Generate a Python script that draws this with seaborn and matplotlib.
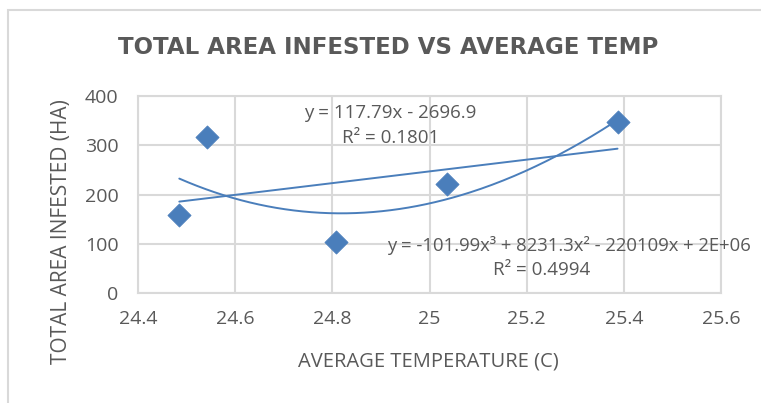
import numpy as np
import pandas as pd
import matplotlib
matplotlib.use("Agg")
import matplotlib.pyplot as plt
import seaborn as sns
from matplotlib.patches import Rectangle

# ---- data ----
avg_temp = [24.485, 24.541, 24.808, 25.035, 25.387]
area_infested = [158, 317, 103, 221, 347]
x_ticks = [24.4, 24.6, 24.8, 25.0, 25.2, 25.4, 25.6]
x_tick_labels = ["24.4", "24.6", "24.8", "25", "25.2", "25.4", "25.6"]
y_ticks = [0, 100, 200, 300, 400]
lin_eq = "y = 117.79x - 2696.9"
lin_r2 = "R² = 0.1801"
cub_eq = "y = -101.99x³ + 8231.3x² - 220109x + 2E+06"
cub_r2 = "R² = 0.4994"

sns.set_theme(style="white")
plt.rcParams['font.family'] = ['Open Sans', 'DejaVu Sans']

TXT = "#595959"
GRID = "#d9d9d9"
BLUE = "#4a7ebb"

W, H = 761, 403
fig = plt.figure(figsize=(W / 100, H / 100), dpi=100)
fig.patch.set_facecolor("white")
# chart outer border
fig.patches.append(Rectangle((8 / W, -0.1), 2, 1.1 - 10 / H, transform=fig.transFigure,
                             fill=False, edgecolor=GRID, linewidth=1.5))

ax = fig.add_axes([138 / W, (H - 293) / H, 583 / W, 197 / H])

df = pd.DataFrame({"temp": avg_temp, "area": area_infested})

# trendlines
xs = np.linspace(min(avg_temp), max(avg_temp), 200)
p1 = np.polyfit(df["temp"], df["area"], 1)
p3 = np.polyfit(df["temp"] - 24.9, df["area"], 3)
trend = pd.DataFrame({"x": xs, "lin": np.polyval(p1, xs), "cub": np.polyval(p3, xs - 24.9)})
sns.lineplot(data=trend, x="x", y="lin", ax=ax, color=BLUE, linewidth=1.4, zorder=2)
sns.lineplot(data=trend, x="x", y="cub", ax=ax, color=BLUE, linewidth=1.4, zorder=2)

sns.scatterplot(data=df, x="temp", y="area", ax=ax, marker="D", s=140,
                color=BLUE, edgecolor=BLUE, linewidth=0.5, zorder=3)

ax.set_xlim(24.4, 25.6)
ax.set_ylim(0, 400)
ax.set_xticks(x_ticks)
ax.set_xticklabels(x_tick_labels)
ax.set_yticks(y_ticks)
ax.grid(True, color=GRID, linewidth=1.5)
ax.set_axisbelow(True)
for s in ax.spines.values():
    s.set_color(GRID)
    s.set_linewidth(1.5)
ax.tick_params(axis="both", length=0, labelsize=14, colors=TXT)
ax.tick_params(axis="x", pad=12)
ax.tick_params(axis="y", pad=14)
ax.set_xlabel("")
ax.set_ylabel("")

# trendline labels
ax.text(24.919, 365, lin_eq, ha="center", va="center", fontsize=13.5, color=TXT)
ax.text(24.919, 314, lin_r2, ha="center", va="center", fontsize=13.5, color=TXT)
ax.text(24.912, 97, cub_eq, ha="left", va="center", fontsize=13.3, color=TXT, clip_on=False)
ax.text(25.23, 46, cub_r2, ha="center", va="center", fontsize=13.5, color=TXT)

fig.text(388 / W, 1 - 47 / H, "TOTAL AREA INFESTED VS AVERAGE TEMP", ha="center", va="center",
         fontsize=16.5, fontweight="bold", color=TXT, family=["DejaVu Sans"])
fig.text(428 / W, 1 - 361 / H, "AVERAGE TEMPERATURE (C)", ha="center", va="center",
         fontsize=14.5, color=TXT)
fig.text(62 / W, 1 - 232 / H, "TOTAL AREA INFESTED (HA)", ha="center", va="center",
         rotation=90, fontsize=15, color=TXT)

fig.savefig("out.png", dpi=100, facecolor="white")
